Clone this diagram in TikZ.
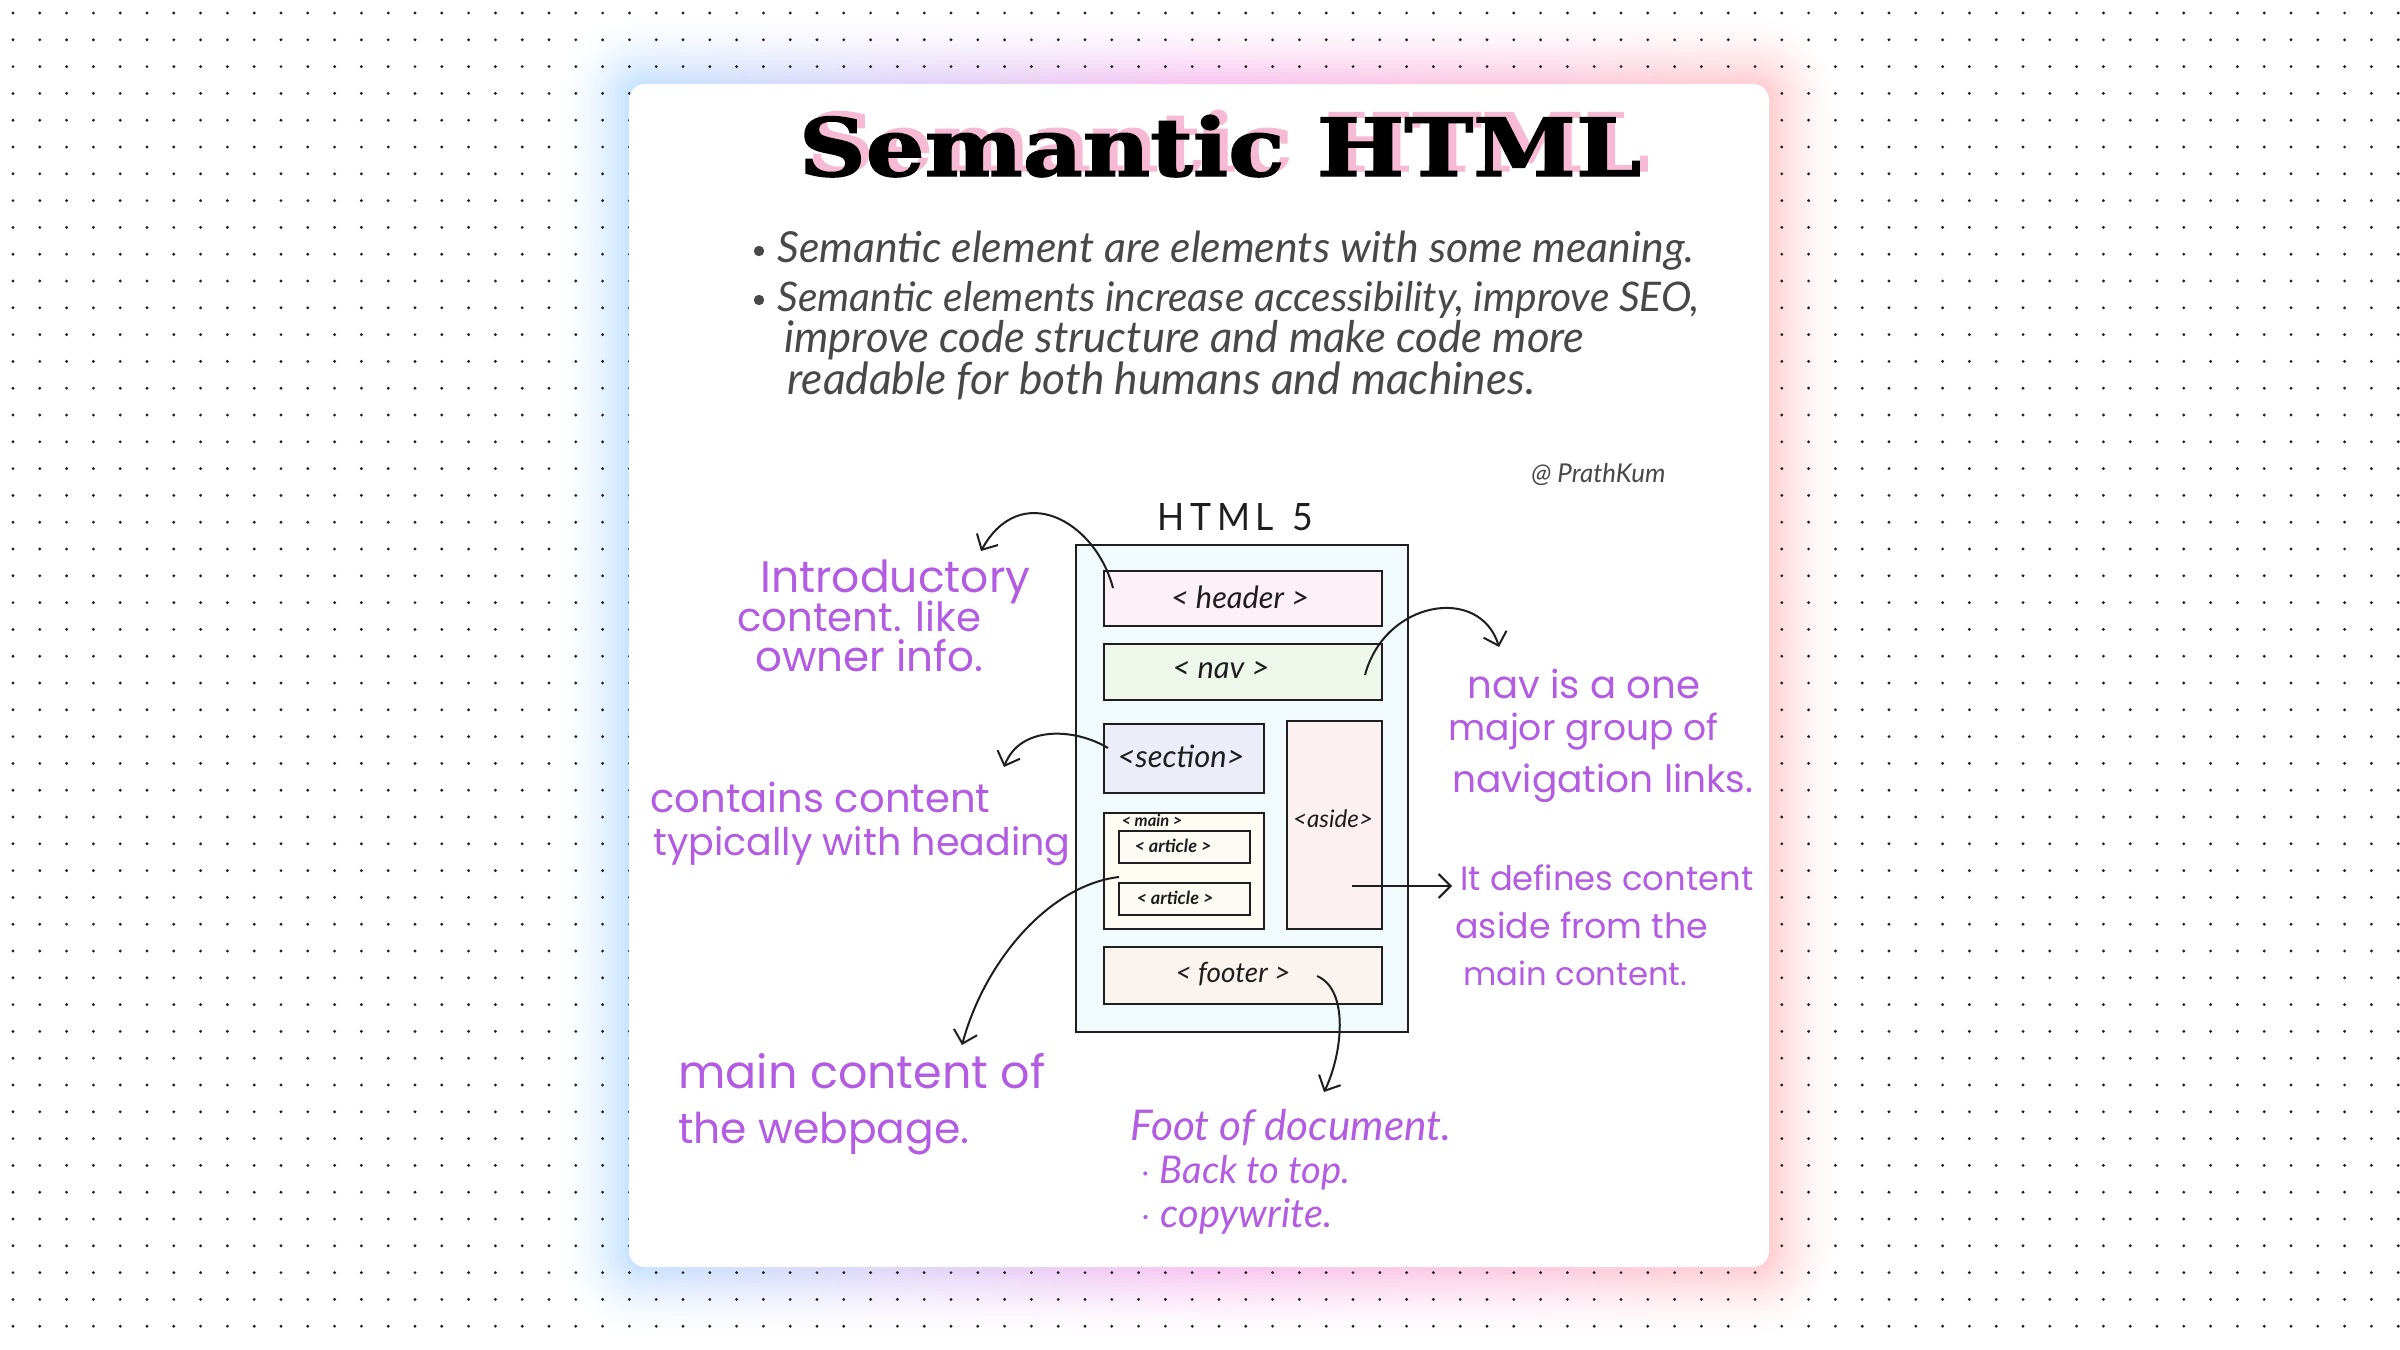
\documentclass[tikz,border=0pt]{standalone}
\usepackage{fontspec}
\usepackage{graphicx}
\usetikzlibrary{arrows.meta}
\newfontfamily\titlefont{DejaVu Serif}[BoldFeatures={FakeBold=1.6}]
\newfontfamily\handA{Poppins}
\newfontfamily\handB{Lato}
\definecolor{annot}{RGB}{178,92,226}
\definecolor{graytxt}{RGB}{72,72,72}
\definecolor{ink}{RGB}{30,30,30}
\definecolor{dotc}{RGB}{35,35,35}
\definecolor{glowB}{RGB}{175,215,255}
\definecolor{glowP}{RGB}{245,170,235}
\definecolor{glowR}{RGB}{255,185,190}
\definecolor{titlepink}{RGB}{246,186,212}
\definecolor{outerfill}{RGB}{241,250,253}
\definecolor{hdrfill}{RGB}{253,240,246}
\definecolor{navfill}{RGB}{238,248,234}
\definecolor{secfill}{RGB}{237,237,250}
\definecolor{asidefill}{RGB}{252,240,240}
\definecolor{mainfill}{RGB}{253,253,243}
\definecolor{artfill}{RGB}{252,252,245}
\definecolor{footfill}{RGB}{251,243,238}
\newcommand\titletext{\resizebox{421pt}{30.5pt}{\titlefont\bfseries Semantic HTML}}
\tikzset{
  htmlbox/.style={draw=ink, line width=1.3pt, inner sep=0pt, text=ink},
  lbl/.style={inner sep=0pt, text=ink, font=\handB\itshape},
  note/.style={inner sep=0pt, anchor=base west, text=annot, font=\handA},
  thinnote/.style={inner sep=0pt, anchor=base west, text=annot, font=\handB\itshape},
  bul/.style={inner sep=0pt, anchor=base west, text=graytxt, font=\handB\itshape},
  arr/.style={draw=ink, line width=1pt, -{Straight Barb[length=6pt,width=12pt,line width=1pt]}}
}
\begin{document}
\begin{tikzpicture}[x=0.5pt,y=-0.5pt]
\useasboundingbox (0,0) rectangle (2400,1350);
\fill[white] (0,0) rectangle (2400,1350);
% glow (opaque layers, outermost first)
\foreach \i in {17,...,0}{
  \pgfmathsetmacro\k{72*(1-\i/18)^1.6}
  \pgfmathsetmacro\rr{8+2*\i}
  \shade[left color=glowB!\k!white, right color=glowR!\k!white, middle color=glowP!\k!white, rounded corners=\rr pt]
    ({629-4*\i},{84-4*\i}) rectangle ({1769+4*\i},{1267+4*\i});
}
% dots
\foreach \i in {0,...,89}{
  \foreach \j in {0,...,49}{
    \fill[dotc] ({13+26.8*\i},{13+26.8*\j}) circle (0.8pt);
  }
}
% card
\fill[white, rounded corners=8pt] (629,84) rectangle (1769,1267);

% title with pink offset shadow (one text node)
\node[inner sep=0pt, text=black, anchor=base] (title) at (1220,176)
  {\makebox[0pt][l]{\hspace*{4pt}\raisebox{2.5pt}{\color{titlepink}\titletext}}\titletext};

% bullets
\fill[graytxt] (759,251) circle (2.6pt);
\fill[graytxt] (759,300) circle (2.6pt);
\node[bul] (b1) at (777,262) {\resizebox{458.5pt}{!}{Semantic element are elements with some meaning.}};
\node[bul] (b2) at (777,311) {\resizebox{461pt}{!}{Semantic elements increase accessibility, improve SEO,}};
\node[bul] (b3) at (784,352) {\resizebox{400pt}{!}{improve code structure and make code more}};
\node[bul] (b4) at (787,394) {\resizebox{374pt}{!}{readable for both humans and machines.}};

\node[inner sep=0pt, anchor=base west, text=graytxt, font=\handB\itshape] (credit) at (1531,482) {\resizebox{67pt}{!}{@ PrathKum}};

% HTML 5 diagram
\node[inner sep=0pt, text=ink, font=\handB\Large] (h5) at (1235,517) {\resizebox{78pt}{13.5pt}{H\,T\,M\,L\ \ 5}};
\node[htmlbox, fill=outerfill, minimum width=166pt, minimum height=243.5pt] (outer) at (1242,788.5) {};
\node[htmlbox, fill=hdrfill, minimum width=139pt, minimum height=27.5pt] (header) at (1243,598.5) {};
\node[lbl] (headerlbl) at (1240,597) {\resizebox{69pt}{!}{<\ header\ >}};
\node[htmlbox, fill=navfill, minimum width=139pt, minimum height=28pt] (nav) at (1243,672) {};
\node[lbl] (navlbl) at (1221,670) {\resizebox{48.5pt}{!}{<\ nav\ >}};
\node[htmlbox, fill=secfill, minimum width=80pt, minimum height=34.5pt] (section) at (1184,758.5) {};
\node[lbl] (seclbl) at (1181,756) {\resizebox{63.5pt}{!}{<section>}};
\node[htmlbox, fill=asidefill, minimum width=47.5pt, minimum height=104pt] (aside) at (1334.5,825) {};
\node[lbl] (asidelbl) at (1333,819) {\resizebox{40pt}{!}{<aside>}};
\node[htmlbox, fill=mainfill, minimum width=80pt, minimum height=58pt] (main) at (1184,871) {};
\node[lbl, font=\handB\itshape\bfseries] (mainlbl) at (1152,820) {\resizebox{30.5pt}{!}{<\ main\ >}};
\node[htmlbox, fill=artfill, minimum width=65.5pt, minimum height=16pt] (art1) at (1184.5,847) {};
\node[lbl, font=\handB\itshape\bfseries] (art1lbl) at (1173,846) {\resizebox{38.5pt}{!}{<\ article\ >}};
\node[htmlbox, fill=artfill, minimum width=65.5pt, minimum height=16pt] (art2) at (1184.5,899) {};
\node[lbl, font=\handB\itshape\bfseries] (art2lbl) at (1175,898) {\resizebox{38.5pt}{!}{<\ article\ >}};
\node[htmlbox, fill=footfill, minimum width=139pt, minimum height=28.5pt] (footer) at (1243,975.5) {};
\node[lbl] (footlbl) at (1233,974) {\resizebox{57.5pt}{!}{<\ footer\ >}};

% arrow anchor points
\coordinate (hs) at (1113,588);
\coordinate (he) at (981,551);
\coordinate (ns) at (1365,675);
\coordinate (ne) at (1499,647);
\coordinate (ss) at (1108,748);
\coordinate (se) at (1004,767);
\coordinate (ms) at (1119,877);
\coordinate (me) at (962,1045);
\coordinate (as) at (1352,886);
\coordinate (ae) at (1452,886);
\coordinate (fs) at (1317,976);
\coordinate (fe) at (1324,1092);

\draw[arr] (hs) .. controls (1095,520) and (1020,480) .. (he);
\draw[arr] (ns) .. controls (1385,600) and (1480,585) .. (ne);
\draw[arr] (ss) .. controls (1075,728) and (1020,725) .. (se);
\draw[arr] (ms) .. controls (1050,885) and (985,960) .. (me);
\draw[arr] (as) -- (ae);
\draw[arr] (fs) .. controls (1350,990) and (1342,1055) .. (fe);

% annotations
\node[note] (n1a) at (760,592) {\resizebox{135pt}{!}{Introductory}};
\node[note] (n1b) at (737,631) {\resizebox{122pt}{!}{content. like}};
\node[note] (n1c) at (755,671) {\resizebox{114pt}{!}{owner info.}};
\node[note] (n2a) at (650,812) {\resizebox{170pt}{!}{contains content}};
\node[note] (n2b) at (653,855) {\resizebox{208.5pt}{!}{typically with heading}};
\node[note] (n3a) at (1467,698) {\resizebox{116.5pt}{!}{nav is a one}};
\node[note] (n3b) at (1448,740) {\resizebox{135pt}{!}{major group of}};
\node[note] (n3c) at (1452,792) {\resizebox{150.5pt}{!}{navigation links.}};
\node[note] (n4a) at (1460,890) {\resizebox{146.5pt}{!}{It defines content}};
\node[note] (n4b) at (1455,938) {\resizebox{126.5pt}{!}{aside from the}};
\node[note] (n4c) at (1463,985) {\resizebox{112pt}{!}{main content.}};
\node[note] (n5a) at (678,1088) {\resizebox{183.5pt}{!}{main content of}};
\node[note] (n5b) at (678,1143) {\resizebox{145.5pt}{!}{the webpage.}};
\node[thinnote] (n6a) at (1130,1140) {\resizebox{160.5pt}{!}{Foot of document.}};
\node[thinnote] (n6b) at (1140,1183) {\resizebox{105pt}{!}{$\cdot$ Back to top.}};
\node[thinnote] (n6c) at (1140,1227) {\resizebox{96pt}{!}{$\cdot$ copywrite.}};
\end{tikzpicture}
\end{document}
